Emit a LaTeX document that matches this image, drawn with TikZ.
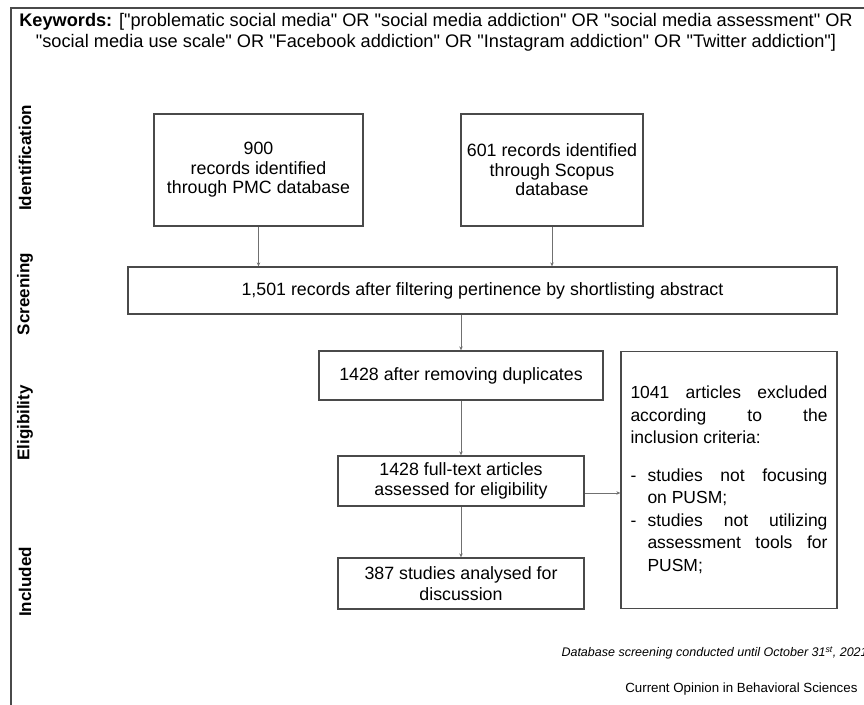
\documentclass[tikz,border=0pt]{standalone}
\usepackage{fontspec}
\setmainfont{Liberation Sans}
\usetikzlibrary{positioning,arrows.meta,calc}
\definecolor{edge}{HTML}{4A4A4A}
\definecolor{wire}{HTML}{707070}
\newcommand{\qt}[1]{\textquotedbl#1\textquotedbl}
\tikzset{
  flow/.style={-{Stealth[length=4pt,width=3.5pt]}, draw=wire, line width=0.9pt},
  box/.style={draw=edge, line width=1.3pt, align=center, inner sep=2pt, font=\fontsize{17.8}{20.5}\selectfont},
  srcbox/.style={box, minimum height=112pt, font=\fontsize{17.8}{19.5}\selectfont},
  phase/.style={rotate=90, font=\bfseries\fontsize{17}{19}\selectfont},
}

\begin{document}
\begin{tikzpicture}[x=1pt, y=-1pt]
  \useasboundingbox (0,0) rectangle (864,704);
  \clip (0,0) rectangle (864,704);
  % outer frame, runs off the right and bottom edges
  \draw[edge, line width=1.3pt] (11,8) rectangle (880,720);
  % search keywords
  \node[align=center, font=\fontsize{18.2}{21}\selectfont] (kw) at (436,32)
    {\textbf{Keywords:} [\qt{problematic social media} OR \qt{social media addiction} OR \qt{social media assessment} OR\\
     \qt{social media use scale} OR \qt{Facebook addiction} OR \qt{Instagram addiction} OR \qt{Twitter addiction}]};
  % phase labels on the left
  \node[phase] (ident) at (25,158) {Identification};
  \node[phase] (screen) at (25,294) {Screening};
  \node[phase] (elgb) at (25,423) {Eligibility};
  \node[phase] (incd) at (25,582) {Included};
  % flow boxes
  \node[srcbox, minimum width=209pt] (pmc) at (258.5,170) {900\\records identified\\through PMC database};
  \node[srcbox, minimum width=182pt] (scopus) at (552,170) {601 records identified\\through Scopus\\database};
  \node[box, minimum width=709pt, minimum height=47pt] (filt) at (482.5,290.5) {1,501 records after filtering pertinence by shortlisting abstract};
  \node[box, minimum width=284pt, minimum height=49pt] (dup) at (461,375.5) {1428 after removing duplicates};
  \node[box, minimum width=246pt, minimum height=50pt] (elig) at (461,481) {1428 full-text articles\\assessed for eligibility};
  \node[box, minimum width=246pt, minimum height=51pt] (incl) at (461,583.5) {387 studies analysed for\\discussion};
  % exclusion box
  \node[box, minimum width=216pt, minimum height=257pt, text width=197pt, align=justify,
        font=\fontsize{17.5}{22.5}\selectfont] (excl) at (729,480)
    {1041 articles excluded\linebreak according to the\linebreak inclusion criteria:\par\vspace{15pt}
     \hangindent=17pt\hangafter=1\noindent\makebox[17pt][l]{-}studies not focusing\linebreak on PUSM;\par
     \hangindent=17pt\hangafter=1\noindent\makebox[17pt][l]{-}studies not utilizing\linebreak assessment tools for\linebreak PUSM;\par};
  % arrows
  \draw[flow] (pmc.south) -- (pmc.south |- filt.north);
  \draw[flow] (scopus.south) -- (scopus.south |- filt.north);
  \draw[flow] (filt.south -| dup) -- (dup.north);
  \draw[flow] (dup) -- (elig);
  \draw[flow] (elig) -- (incl);
  \coordinate (out) at ($(elig.east)+(0,12)$);
  \draw[flow] (out) -- (out -| excl.west);
  % footer notes
  \node[anchor=west, font=\itshape\fontsize{12.5}{15}\selectfont] (note) at (558,653) {Database screening conducted until October 31\textsuperscript{st}, 2021};
  \node[anchor=east, font=\fontsize{13.3}{15}\selectfont] (src) at (861,689) {Current Opinion in Behavioral Sciences};
\end{tikzpicture}
\end{document}
